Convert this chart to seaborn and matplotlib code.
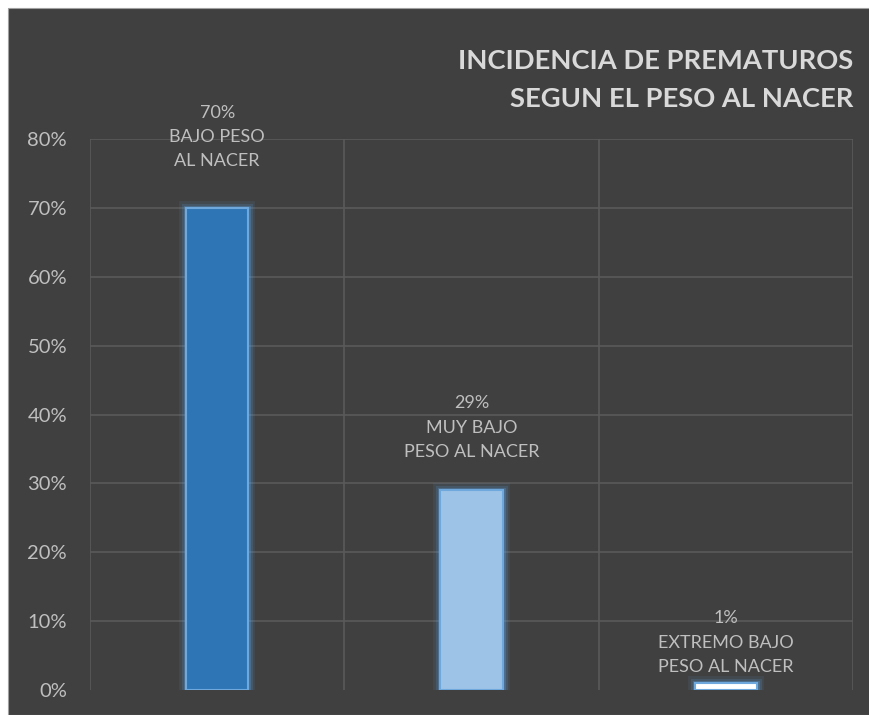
import matplotlib
matplotlib.use("Agg")
import matplotlib.pyplot as plt
import matplotlib.patheffects as pe
from matplotlib.patches import Rectangle
import seaborn as sns
import pandas as pd

# datos
categorias = ["BAJO PESO\nAL NACER", "MUY BAJO\nPESO AL NACER", "EXTREMO BAJO\nPESO AL NACER"]
valores = [0.70, 0.29, 0.01]
colores = ["#2E75B6", "#9DC3E6", "#FFFFFF"]
yticks = [0, 0.1, 0.2, 0.3, 0.4, 0.5, 0.6, 0.7, 0.8]

df = pd.DataFrame({"categoria": categorias, "valor": valores})

sns.set_style("dark")
plt.rcParams["font.family"] = ["Lato", "DejaVu Sans"]

fondo = "#404040"
texto = "#BFBFBF"

fig = plt.figure(figsize=(8.7, 7.15), dpi=100)
fig.patch.set_facecolor("white")
fig.patches.append(Rectangle((8 / 870, 0), 1, 1 - 8 / 715, transform=fig.transFigure,
                             facecolor=fondo, edgecolor="#A0A0A0", linewidth=0.8, zorder=-5))

ax = fig.add_axes([90 / 870, 1 - 690 / 715, (853 - 90) / 870, (690 - 139) / 715])
ax.set_zorder(2)
ax.set_facecolor(fondo)

sns.barplot(data=df, x="categoria", y="valor", hue="categoria", palette=colores,
            saturation=1, width=0.244, legend=False, ax=ax, zorder=3)

glow = [pe.Stroke(linewidth=10, foreground="#5B9BD5", alpha=0.1),
        pe.Stroke(linewidth=6.5, foreground="#5B9BD5", alpha=0.18),
        pe.Stroke(linewidth=3.5, foreground="#5B9BD5", alpha=0.35),
        pe.Normal()]
for p in ax.patches:
    p.set_edgecolor("#6FA8DC")
    p.set_linewidth(1.5)
    p.set_path_effects(glow)

# etiquetas de datos (desplazadas como en el original)
desplaz = [28, 22, 6]
for i, (cat, v) in enumerate(zip(categorias, valores)):
    ax.annotate(f"{v:.0%}\n{cat}", (i, v), xytext=(0, desplaz[i]), textcoords="offset points",
                ha="center", va="bottom", color=texto, fontsize=13, linespacing=1.63,
                zorder=5, annotation_clip=False)

ax.set_xlim(-0.5, 2.5)
ax.set_ylim(0, 0.8)
ax.set_yticks(yticks)
ax.set_yticklabels([f"{t:.0%}" for t in yticks])
ax.set_xticks([])
ax.set_xlabel("")
ax.set_ylabel("")
ax.tick_params(axis="y", length=0, pad=16.5, labelsize=14.5, labelcolor=texto)
ax.grid(False)
for t in yticks[1:]:
    ax.axhline(t, color="#5A5A5A", linewidth=1.2, zorder=1)
for xv in [-0.5, 0.5, 1.5, 2.5]:
    ax.axvline(xv, color="#5A5A5A", linewidth=1.2, zorder=1)
for s in ax.spines.values():
    s.set_visible(False)

fig.text(853 / 870, 1 - 80 / 715, "INCIDENCIA DE PREMATUROS\nSEGUN EL PESO AL NACER",
         ha="right", va="center", color="#D9D9D9", fontsize=19.7, fontweight="bold",
         linespacing=1.7)

fig.savefig("out.png", dpi=100, facecolor=fig.get_facecolor())
